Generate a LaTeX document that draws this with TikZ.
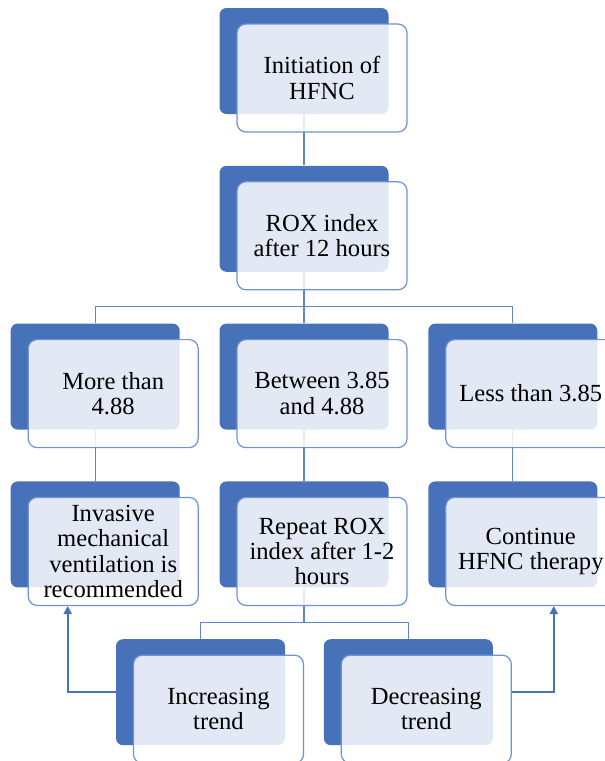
\documentclass[tikz,border=0pt]{standalone}
\usepackage{fontspec}
\setmainfont{LiberationSerif}[Extension=.ttf, UprightFont=*-Regular, BoldFont=*-Bold]
\usetikzlibrary{arrows.meta,positioning,backgrounds,calc}
\definecolor{boxBlue}{RGB}{71,114,186}
\definecolor{edgeBlue}{RGB}{112,146,208}
\definecolor{lineBlue}{RGB}{98,132,200}
\tikzset{
  backbox/.style={fill=boxBlue, rounded corners=3.5pt, minimum width=84.5pt, minimum height=53pt, inner sep=0pt},
  frontbox/.style={draw=edgeBlue, line width=0.6pt, fill=white, fill opacity=0.85, text opacity=1, rounded corners=4.5pt, minimum width=85pt, minimum height=54pt, inner sep=0pt, align=center, font=\fontsize{12.3}{12.7}\selectfont},
  link/.style={draw=lineBlue, line width=0.6pt},
  back/.style={-{Triangle[length=4pt,width=4pt]}, draw=boxBlue, line width=1pt}
}
\begin{document}
\begin{tikzpicture}[x=0.5pt, y=-0.5pt]
        \useasboundingbox (0,0) rectangle (605,761);
        \node[backbox] (init-d) at (304,61) {};
        \node[frontbox] (init) at ([shift={(9pt,-8.5pt)}]init-d.center) {Initiation of\\HFNC};
        \node[backbox, below=25.5pt of init-d] (rox-d) {};
        \node[frontbox] (rox) at ([shift={(9pt,-8.5pt)}]rox-d.center) {ROX index\\after 12 hours};
        \node[backbox, below=25.5pt of rox-d] (btw-d) {};
        \node[frontbox] (btw) at ([shift={(9pt,-8.5pt)}]btw-d.center) {Between 3.85\\and 4.88};
        \node[backbox, left=19.5pt of btw-d] (more-d) {};
        \node[frontbox] (more) at ([shift={(9pt,-8.5pt)}]more-d.center) {More than\\4.88};
        \node[backbox, right=19.5pt of btw-d] (less-d) {};
        \node[frontbox] (less) at ([shift={(9pt,-8.5pt)}]less-d.center) {Less than 3.85};
        \node[backbox, below=25.5pt of more-d] (inv-d) {};
        \node[frontbox] (inv) at ([shift={(9pt,-8.5pt)}]inv-d.center) {Invasive\\mechanical\\ventilation is\\recommended};
        \node[backbox, below=25.5pt of btw-d] (rep-d) {};
        \node[frontbox] (rep) at ([shift={(9pt,-8.5pt)}]rep-d.center) {Repeat ROX\\index after 1-2\\hours};
        \node[backbox, below=25.5pt of less-d] (cont-d) {};
        \node[frontbox] (cont) at ([shift={(9pt,-8.5pt)}]cont-d.center) {Continue\\HFNC therapy};
        \node[backbox, below=25.5pt of rep-d, xshift=-51.75pt] (inc-d) {};
        \node[frontbox] (inc) at ([shift={(9pt,-8.5pt)}]inc-d.center) {Increasing\\trend};
        \node[backbox, right=19pt of inc-d] (dec-d) {};
        \node[frontbox] (dec) at ([shift={(9pt,-8.5pt)}]dec-d.center) {Decreasing\\trend};
        \coordinate (busA) at ($(rox.south)!0.5!(btw-d.north)$);
        \coordinate (busB) at ($(rep.south)!0.5!(inc-d.north)$);
        \begin{pgfonlayer}{background}
          \draw[link] (init-d.south) -- (rox-d.north);
          \draw[link] (rox-d.south) -- (btw-d.north);
          \draw[link] (more-d.north) |- (busA) -| (less-d.north);
          \draw[link] (more-d.south) -- (inv-d.north);
          \draw[link] (btw-d.south) -- (rep-d.north);
          \draw[link] (less-d.south) -- (cont-d.north);
          \draw[link] (rep-d.south) -- (rep-d.south |- busB);
          \draw[link] (inc-d.north) |- (busB) -| (dec-d.north);
        \end{pgfonlayer}
        \draw[back] (inc-d.west) -| ([xshift=-22.75pt]inv.south);
        \draw[back] (dec-d.east -| dec.east) -| ([xshift=11.5pt]cont.south);
      \end{tikzpicture}
\end{document}
